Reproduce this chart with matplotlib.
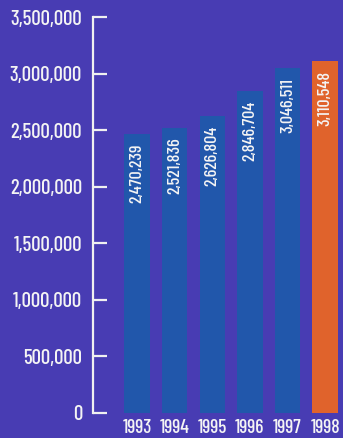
import matplotlib
matplotlib.use("Agg")
import matplotlib.pyplot as plt
from matplotlib.ticker import FuncFormatter

years = ["1993", "1994", "1995", "1996", "1997", "1998"]
values = [2470239, 2521836, 2626804, 2846704, 3046511, 3110548]
bar_colors = ["#2157ab", "#2157ab", "#2157ab", "#2157ab", "#2157ab", "#e0632c"]
yticks = [0, 500000, 1000000, 1500000, 2000000, 2500000, 3000000, 3500000]

bg = "#483cb3"
fam = ["Barlow Condensed", "DejaVu Sans"]
txtc = "#f4f4f4"

fig = plt.figure(figsize=(3.43, 4.38), dpi=100, facecolor=bg)
ax = fig.add_axes([93/343, 25/438, (341-93)/343, (413-17)/438])
ax.set_facecolor(bg)

x = list(range(len(years)))
ax.bar(x, values, width=0.68, color=bar_colors, zorder=2)

for xi, v in zip(x, values):
    ax.annotate(f"{v:,}", xy=(xi, v), xytext=(0, -7), textcoords="offset points",
                rotation=90, ha="center", va="top", color=txtc,
                fontsize=13, family=fam, fontweight="medium")

ax.set_ylim(0, 3500000)
ax.set_xlim(-1.17, 5.42)
ax.set_yticks(yticks)
ax.yaxis.set_major_formatter(FuncFormatter(lambda v, p: f"{int(v):,}"))
ax.set_xticks(x)
ax.set_xticklabels(years)

for s in ["top", "right", "bottom"]:
    ax.spines[s].set_visible(False)
ax.spines["left"].set_color("#f0f0f0")
ax.spines["left"].set_linewidth(1.6)

ax.tick_params(axis="y", direction="in", length=10, width=1.6, color="#f0f0f0",
               labelcolor=txtc, labelsize=15, pad=8)
ax.tick_params(axis="x", length=0, labelcolor=txtc, labelsize=14, pad=4)
for lab in ax.get_yticklabels() + ax.get_xticklabels():
    lab.set_family(fam)
    lab.set_fontweight("medium")

fig.savefig("out.png", dpi=100, facecolor=bg)
